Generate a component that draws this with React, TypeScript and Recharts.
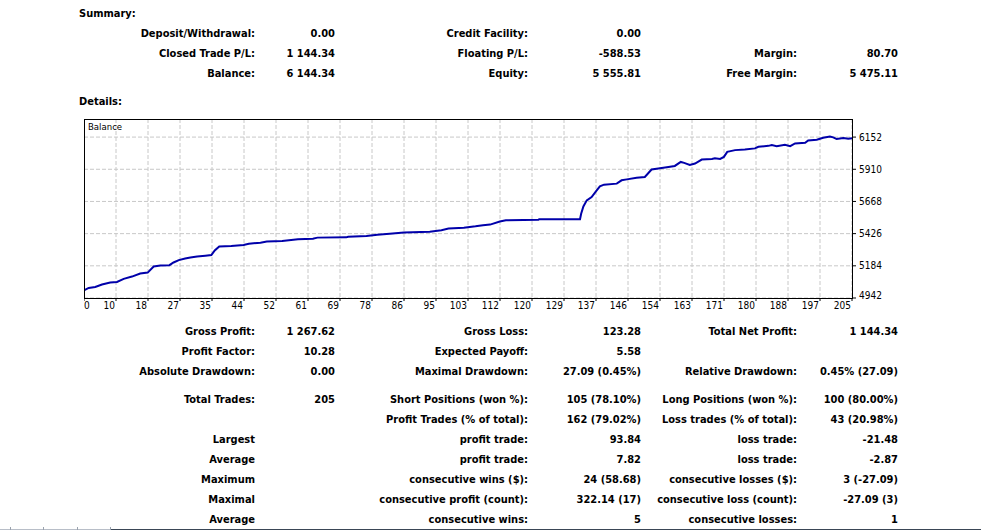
import { CartesianGrid, Line, LineChart, XAxis, YAxis } from "recharts";

// balance curve (trade number -> balance)
const trades = [
  0, 1.25, 3, 4.8, 7, 8.8, 10.6, 12.8, 15, 17, 18.6, 20.4, 22.8, 23.9, 25.3, 27, 28.4, 30.2, 32.4, 34,
  34.9, 36.1, 39.3, 42.6, 44, 47.1, 48.8, 52.9, 57.1, 61.1, 62.3, 70, 70.5, 75.4, 78.3, 81.6, 85.4, 92.3,
  95.4, 97.3, 101.4, 104.5, 106.5, 108.4, 111, 112.6, 121.3, 121.5, 132.4, 132.7, 133.3, 134.2, 135.5,
  136.7, 137.7, 138.8, 142.2, 143.5, 144.9, 147.5, 149.7, 151.5, 153.3, 156, 157.7, 159.3, 160.2, 161.7,
  163.1, 164.9, 167.6, 168.4, 169.8, 170.8, 171.7, 173.8, 176.4, 179.1, 180, 182.7, 183.6, 184.9, 187.1,
  188.5, 189.8, 192.5, 193.3, 195.6, 197.3, 199.1, 200, 200.9, 202.7, 204, 205,
];
const balance = [
  5000, 5018, 5025, 5043, 5058, 5063, 5086, 5103, 5126, 5133, 5179, 5186, 5189, 5209, 5227, 5239, 5247,
  5254, 5260, 5265, 5300, 5330, 5333, 5341, 5350, 5358, 5366, 5371, 5383, 5388, 5396, 5398, 5403, 5409,
  5418, 5426, 5434, 5441, 5451, 5464, 5471, 5481, 5489, 5494, 5517, 5527, 5530, 5534, 5534, 5575, 5630,
  5676, 5701, 5746, 5781, 5794, 5802, 5827, 5834, 5847, 5852, 5908, 5915, 5927, 5935, 5965, 5958, 5943,
  5953, 5983, 5988, 5993, 5988, 6003, 6041, 6054, 6059, 6067, 6079, 6086, 6092, 6084, 6094, 6084, 6104,
  6109, 6127, 6132, 6147, 6157, 6150, 6137, 6145, 6139, 6144,
];

const xTickLabels = [
  "0", "10", "18", "27", "35", "44", "52", "61", "69", "78", "86", "95", "103", "112", "120", "129",
  "137", "146", "154", "163", "171", "180", "188", "197", "205",
];
const yTicks = [4942, 5184, 5426, 5668, 5910, 6152];
const yMax = 6288;
const lastTrade = 205;

const summaryRows = [
  ["Deposit/Withdrawal:", "0.00", "Credit Facility:", "0.00", "", ""],
  ["Closed Trade P/L:", "1 144.34", "Floating P/L:", "-588.53", "Margin:", "80.70"],
  ["Balance:", "6 144.34", "Equity:", "5 555.81", "Free Margin:", "5 475.11"],
];
const detailRows = [
  ["Gross Profit:", "1 267.62", "Gross Loss:", "123.28", "Total Net Profit:", "1 144.34"],
  ["Profit Factor:", "10.28", "Expected Payoff:", "5.58", "", ""],
  ["Absolute Drawdown:", "0.00", "Maximal Drawdown:", "27.09 (0.45%)", "Relative Drawdown:", "0.45% (27.09)"],
  ["Total Trades:", "205", "Short Positions (won %):", "105 (78.10%)", "Long Positions (won %):", "100 (80.00%)"],
  ["", "", "Profit Trades (% of total):", "162 (79.02%)", "Loss trades (% of total):", "43 (20.98%)"],
  ["Largest", "", "profit trade:", "93.84", "loss trade:", "-21.48"],
  ["Average", "", "profit trade:", "7.82", "loss trade:", "-2.87"],
  ["Maximum", "", "consecutive wins ($):", "24 (58.68)", "consecutive losses ($):", "3 (-27.09)"],
  ["Maximal", "", "consecutive profit (count):", "322.14 (17)", "consecutive loss (count):", "-27.09 (3)"],
  ["Average", "", "consecutive wins:", "5", "consecutive losses:", "1"],
];

const colRight = [255, 335, 528, 641, 797, 898];
const summaryBaselines = [37.5, 57.5, 77.5];
const detailBaselines = [335.5, 355.5, 375.5, 403.5, 423.5, 443.5, 463.5, 483.5, 503.5, 523.5];

const data = trades.map((t, i) => ({ trade: t, balance: balance[i] }));
const xTicks = xTickLabels.map((_, i) => (i * lastTrade) / (xTickLabels.length - 1));

const textFont = '"DejaVu Sans Condensed", "DejaVu Sans", sans-serif';
const axisFont = '"Liberation Sans Narrow", "DejaVu Sans Condensed", sans-serif';

const PLOT_X = 84;
const PLOT_Y = 119;
const PLOT_W = 768;
const PLOT_H = 179;

function XTick(props: any) {
  const { x, y, payload } = props;
  const i = xTicks.indexOf(payload.value);
  const first = i === 0;
  return (
    <text
      x={first ? x : x - 1}
      y={y}
      dy="0.71em"
      textAnchor={first ? "start" : "end"}
      fontSize={10}
      fontWeight="normal"
      fontFamily={axisFont}
      fill="#000"
    >
      {xTickLabels[i]}
    </text>
  );
}

function YTick(props: any) {
  const { x, y, payload } = props;
  const shift = payload.value === yTicks[0] ? -3 : 0;
  return (
    <text
      x={x}
      y={y + shift}
      dy="0.355em"
      textAnchor="start"
      fontSize={10}
      fontWeight="normal"
      fontFamily={axisFont}
      fill="#000"
    >
      {payload.value}
    </text>
  );
}

function Cell({ right, baseline, text }: { right: number; baseline: number; text: string }) {
  if (!text) return null;
  return (
    <div
      style={{
        position: "absolute",
        left: right - 300,
        width: 300,
        top: baseline - 10.8,
        lineHeight: "14px",
        textAlign: "right",
        whiteSpace: "nowrap",
      }}
    >
      {text}
    </div>
  );
}

function Heading({ baseline, text }: { baseline: number; text: string }) {
  return (
    <div style={{ position: "absolute", left: 79, top: baseline - 10.8, lineHeight: "14px", whiteSpace: "nowrap" }}>
      {text}
    </div>
  );
}

export default function App() {
  return (
    <div
      style={{
        position: "absolute",
        left: 0,
        top: 0,
        width: 981,
        height: 532,
        background: "#fff",
        overflow: "hidden",
        fontFamily: textFont,
        fontStretch: "condensed",
        fontWeight: "bold",
        fontSize: 11,
        color: "#000",
      }}
    >
      <Heading baseline={18} text="Summary:" />
      {summaryRows.map((row, r) =>
        row.map((text, c) => <Cell key={`s${r}-${c}`} right={colRight[c]} baseline={summaryBaselines[r]} text={text} />)
      )}
      <Heading baseline={106} text="Details:" />

      <div style={{ position: "absolute", left: PLOT_X, top: PLOT_Y, fontWeight: "normal" }}>
        <LineChart width={PLOT_W + 45} height={PLOT_H + 18} data={data} margin={{ top: 0, right: 0, bottom: 0, left: 0 }}>
          <CartesianGrid stroke="#c8c8c8" strokeDasharray="4 2" />
          <XAxis
            dataKey="trade"
            type="number"
            domain={[0, lastTrade]}
            ticks={xTicks}
            interval={0}
            height={18}
            axisLine={false}
            tickLine={{ stroke: "#000" }}
            tickSize={3}
            tickMargin={1}
            tick={<XTick />}
          />
          <YAxis
            orientation="right"
            type="number"
            domain={[yTicks[0], yMax]}
            ticks={yTicks}
            interval={0}
            width={45}
            axisLine={false}
            tickLine={{ stroke: "#000" }}
            tickSize={4}
            tickMargin={3}
            tick={<YTick />}
          />
          <Line
            type="linear"
            dataKey="balance"
            stroke="#0000aa"
            strokeWidth={2}
            dot={false}
            isAnimationActive={false}
          />
        </LineChart>
      </div>
      <div
        style={{
          position: "absolute",
          left: PLOT_X,
          top: PLOT_Y,
          width: PLOT_W + 1,
          height: PLOT_H + 1,
          boxSizing: "border-box",
          border: "1px solid #000",
          pointerEvents: "none",
        }}
      />
      <div
        style={{
          position: "absolute",
          left: 88,
          top: 121,
          fontSize: 9.5,
          fontWeight: "normal",
          lineHeight: "12px",
          fontFamily: textFont,
        }}
      >
        Balance
      </div>

      {detailRows.map((row, r) =>
        row.map((text, c) => <Cell key={`d${r}-${c}`} right={colRight[c]} baseline={detailBaselines[r]} text={text} />)
      )}

      <div style={{ position: "absolute", left: 0, top: 529, width: 110, height: 1, background: "#b8bec8" }} />
      <div style={{ position: "absolute", left: 110, top: 529, width: 871, height: 1, background: "#3a4656" }} />
      {[10, 43, 77, 110].map((x) => (
        <div key={x} style={{ position: "absolute", left: x, top: 527, width: 1, height: 3, background: "#9aa2ae" }} />
      ))}
    </div>
  );
}
